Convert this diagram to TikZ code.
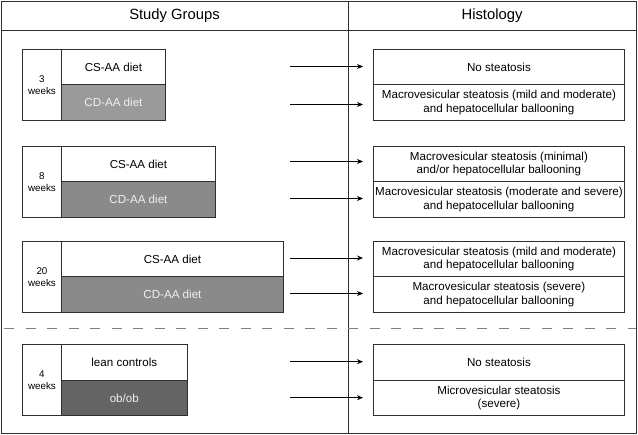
\documentclass[tikz,border=0pt]{standalone}
\usepackage{fontspec}
\setmainfont{Liberation Sans}
\usetikzlibrary{arrows.meta,positioning}

\definecolor{cdlight}{HTML}{9A9A9A}
\definecolor{cdmid}{HTML}{8A8A8A}
\definecolor{obdark}{HTML}{646464}
\definecolor{framegray}{HTML}{2E2E2E}

\begin{document}
\begin{tikzpicture}[x=1pt, y=-1pt, line width=0.9pt,
  every node/.style={font=\fontsize{11.6}{13.6}\selectfont, inner sep=0pt},
  cell/.style={draw=framegray, rectangle, anchor=north west, align=center, minimum height=35.3pt},
  weekbox/.style={cell, minimum width=39pt, minimum height=70.6pt, font=\fontsize{9.8}{11.8}\selectfont},
  histbox/.style={cell, minimum width=251pt},
  darkcell/.style={cell, text=white!88!gray},
  arr/.style={-{Stealth[length=6pt, width=5pt]}, line width=0.8pt, shorten >=10pt}]
  \def\wx{22} \def\dx{61} \def\hx{373} \def\ax{290} \def\rh{35.3}
  \useasboundingbox (0,0) rectangle (638,435);
  % frame and headings
  \draw[framegray] (1.5,1.5) rectangle (636.5,433.5);
  \draw[framegray] (1.5,30) -- (636.5,30);
  \draw[framegray] (348,1.5) -- (348,433.5);
  \node[font=\fontsize{14.8}{16}\selectfont] (hstudy) at (174.5,15.5) {Study Groups};
  \node[font=\fontsize{14.8}{16}\selectfont] (hhist) at (492,15.5) {Histology};
  \draw[gray, line width=1.2pt, dash pattern=on 10pt off 11.5pt, dash phase=-2pt] (2,328.3) -- (636,328.3);

  % 3 weeks
  \node[weekbox] (w3) at (\wx,49) {3\\weeks};
  \node[cell, minimum width=104pt] (cs3) at (\dx,49) {CS-AA diet};
  \node[darkcell, fill=cdlight, minimum width=104pt] (cd3) at (\dx,49+\rh) {CD-AA diet};
  \node[histbox] (h3a) at (\hx,49) {No steatosis};
  \node[histbox] (h3b) at (\hx,49+\rh) {Macrovesicular steatosis (mild and moderate)\\and hepatocellular ballooning};

  % 8 weeks
  \node[weekbox] (w8) at (\wx,146) {8\\weeks};
  \node[cell, minimum width=154pt] (cs8) at (\dx,146) {CS-AA diet};
  \node[darkcell, fill=cdmid, minimum width=154pt] (cd8) at (\dx,146+\rh) {CD-AA diet};
  \node[histbox] (h8a) at (\hx,146) {Macrovesicular steatosis (minimal)\\and/or hepatocellular ballooning};
  \node[histbox] (h8b) at (\hx,146+\rh) {Macrovesicular steatosis (moderate and severe)\\and hepatocellular ballooning};

  % 20 weeks
  \node[weekbox] (w20) at (\wx,241) {20\\weeks};
  \node[cell, minimum width=222pt] (cs20) at (\dx,241) {CS-AA diet};
  \node[darkcell, fill=cdmid, minimum width=222pt] (cd20) at (\dx,241+\rh) {CD-AA diet};
  \node[histbox] (h20a) at (\hx,241) {Macrovesicular steatosis (mild and moderate)\\and hepatocellular ballooning};
  \node[histbox] (h20b) at (\hx,241+\rh) {Macrovesicular steatosis (severe)\\and hepatocellular ballooning};

  % 4 weeks, ob/ob
  \node[weekbox] (w4) at (\wx,344.5) {4\\weeks};
  \node[cell, minimum width=125.7pt] (lean) at (\dx,344.5) {lean controls};
  \node[darkcell, fill=obdark, minimum width=125.7pt] (obob) at (\dx,344.5+\rh) {ob/ob};
  \node[histbox] (h4a) at (\hx,344.5) {No steatosis};
  \node[histbox] (h4b) at (\hx,344.5+\rh) {Microvesicular steatosis\\(severe)};

  % arrows
  \coordinate (s3a) at (\ax,66.5);   \coordinate (s3b) at (\ax,104.5);
  \coordinate (s8a) at (\ax,161.5);  \coordinate (s8b) at (\ax,198.5);
  \coordinate (s20a) at (\ax,258);   \coordinate (s20b) at (\ax,293.5);
  \coordinate (s4a) at (\ax,361.7);  \coordinate (s4b) at (\ax,397.7);
  \draw[arr] (s3a) -- (s3a -| h3a.west);
  \draw[arr] (s3b) -- (s3b -| h3b.west);
  \draw[arr] (s8a) -- (s8a -| h8a.west);
  \draw[arr] (s8b) -- (s8b -| h8b.west);
  \draw[arr] (s20a) -- (s20a -| h20a.west);
  \draw[arr] (s20b) -- (s20b -| h20b.west);
  \draw[arr] (s4a) -- (s4a -| h4a.west);
  \draw[arr] (s4b) -- (s4b -| h4b.west);
\end{tikzpicture}
\end{document}
